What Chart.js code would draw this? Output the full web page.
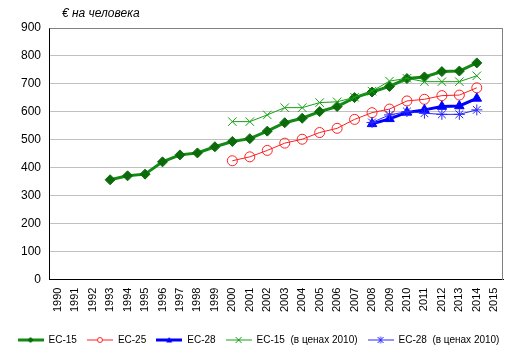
<!DOCTYPE html>
<html>
<head>
<meta charset="utf-8">
<script src="https://cdn.jsdelivr.net/npm/chart.js@4/dist/chart.umd.min.js"></script>
<style>
html,body{margin:0;padding:0;background:#fff;}
#wrap{width:517px;height:357px;position:relative;}
</style>
</head>
<body>
<div id="wrap"><canvas id="c" width="517" height="357"></canvas></div>
<script>
const years = ['1990','1991','1992','1993','1994','1995','1996','1997','1998','1999','2000','2001','2002','2003','2004','2005','2006','2007','2008','2009','2010','2011','2012','2013','2014','2015'];
const yTicks = [0,100,200,300,400,500,600,700,800,900];
const yTitle = '€ на человека';
const seriesNames = ['ЕС-15','ЕС-25','ЕС-28','ЕС-15  (в ценах 2010)','ЕС-28  (в ценах 2010)'];
const eu15 = [null,null,null,357,371,377,421,446,453,475,494,504,531,561,577,601,619,651,671,691,719,725,744,746,775,null];
const eu25 = [null,null,null,null,null,null,null,null,null,null,425,439,462,488,502,526,541,573,597,610,639,645,658,660,686,null];
const eu28 = [null,null,null,null,null,null,null,null,null,null,null,null,null,null,null,null,null,null,557,575,598,607,619,621,648,null];
const eu15r = [null,null,null,null,null,null,null,null,null,null,565,565,589,615,615,633,636,652,674,710,720,708,708,708,729,null];
const eu28r = [null,null,null,null,null,null,null,null,null,null,null,null,null,null,null,null,null,null,562,589,601,595,591,591,607,null];

const cGreen = '#138a13', cDGreen = '#0b6b0b', cRed = '#ff2020', cBlue = '#0000ff', cLGreen = '#16a016', cLBlue = '#2828ff';

function legendIcon(color, lw, marker, mcolor, fill){
  const cv = document.createElement('canvas');
  cv.width = 26; cv.height = 10;
  const x = cv.getContext('2d');
  x.strokeStyle = color; x.lineWidth = lw;
  x.beginPath(); x.moveTo(0,5); x.lineTo(26,5); x.stroke();
  x.strokeStyle = mcolor; x.fillStyle = fill; x.lineWidth = 1;
  const cx = 13, cy = 5;
  x.beginPath();
  if (marker === 'diamond'){ x.moveTo(cx,cy-3); x.lineTo(cx+3,cy); x.lineTo(cx,cy+3); x.lineTo(cx-3,cy); x.closePath(); x.fill(); }
  else if (marker === 'circle'){ x.arc(cx,cy,2.5,0,Math.PI*2); x.fill(); x.stroke(); }
  else if (marker === 'triangle'){ x.moveTo(cx,cy-3); x.lineTo(cx+3,cy+2.5); x.lineTo(cx-3,cy+2.5); x.closePath(); x.fill(); }
  else if (marker === 'x'){ x.moveTo(cx-3,cy-3); x.lineTo(cx+3,cy+3); x.moveTo(cx+3,cy-3); x.lineTo(cx-3,cy+3); x.stroke(); }
  else if (marker === 'star'){ x.moveTo(cx-3,cy-3); x.lineTo(cx+3,cy+3); x.moveTo(cx+3,cy-3); x.lineTo(cx-3,cy+3); x.moveTo(cx,cy-3.5); x.lineTo(cx,cy+3.5); x.stroke(); }
  return cv;
}
const icons = [
  legendIcon(cGreen,3,'diamond',cDGreen,cDGreen),
  legendIcon(cRed,1,'circle',cRed,'#fff'),
  legendIcon(cBlue,3,'triangle',cBlue,cBlue),
  legendIcon(cLGreen,1,'x',cLGreen,cLGreen),
  legendIcon(cLBlue,1,'star',cLBlue,cLBlue)
];

const framePlugin = {
  id:'frame',
  beforeDatasetsDraw(chart){
    const a = chart.chartArea, ctx = chart.ctx;
    ctx.save();
    ctx.strokeStyle = '#808080'; ctx.lineWidth = 1;
    ctx.beginPath();
    ctx.moveTo(Math.round(a.left)+0.5, Math.round(a.top)+0.5);
    ctx.lineTo(Math.round(a.right)-0.5, Math.round(a.top)+0.5);
    ctx.lineTo(Math.round(a.right)-0.5, Math.round(a.bottom));
    ctx.stroke();
    ctx.restore();
  },
  afterDraw(chart){
    const a = chart.chartArea, ctx = chart.ctx;
    ctx.save();
    ctx.font = 'italic 12px "Liberation Sans", Arial, sans-serif';
    ctx.fillStyle = '#000';
    ctx.textBaseline = 'middle';
    ctx.fillText(yTitle, a.left + 13, 14);
    ctx.restore();
  }
};

new Chart(document.getElementById('c'), {
  type:'line',
  data:{
    labels: years,
    datasets:[
      {label:seriesNames[0], data:eu15, borderColor:cGreen, backgroundColor:cDGreen, borderWidth:3, pointStyle:'rectRot', pointRadius:5, pointBorderColor:cDGreen, pointBackgroundColor:cDGreen, pointBorderWidth:1, order:5},
      {label:seriesNames[1], data:eu25, borderColor:cRed, backgroundColor:'#fff', borderWidth:1, pointStyle:'circle', pointRadius:5, pointBorderColor:cRed, pointBackgroundColor:'rgba(255,255,255,0)', pointBorderWidth:1, order:4},
      {label:seriesNames[2], data:eu28, borderColor:cBlue, backgroundColor:cBlue, borderWidth:3, pointStyle:'triangle', pointRadius:5.5, pointBorderColor:cBlue, pointBackgroundColor:cBlue, pointBorderWidth:1, order:3},
      {label:seriesNames[3], data:eu15r, borderColor:cLGreen, backgroundColor:cLGreen, borderWidth:1, pointStyle:'crossRot', pointRadius:6, pointBorderColor:cLGreen, pointBorderWidth:1, order:2},
      {label:seriesNames[4], data:eu28r, borderColor:cLBlue, backgroundColor:cLBlue, borderWidth:1, pointStyle:'star', pointRadius:5.5, pointBorderColor:cLBlue, pointBorderWidth:1, order:1}
    ]
  },
  options:{
    responsive:false,
    animation:false,
    devicePixelRatio:1,
    layout:{padding:{left:0, right:0, top:28, bottom:2}},
    elements:{line:{tension:0}},
    scales:{
      x:{
        offset:true,
        afterFit(s){ s.height += 5; },
        grid:{display:false, drawTicks:false},
        border:{display:true, color:'#000', width:1},
        ticks:{autoSkip:false, minRotation:90, maxRotation:90, padding:8, color:'#000', font:{family:'"Liberation Sans", Arial, sans-serif', size:11}}
      },
      y:{
        min:0, max:900,
        afterBuildTicks(s){ s.ticks = yTicks.map(v=>({value:v})); },
        afterFit(s){ s.width = 49; },
        grid:{color:'#c0c0c0', drawTicks:false},
        border:{display:true, color:'#000', width:1},
        ticks:{padding:8, color:'#000', font:{family:'"Liberation Sans", Arial, sans-serif', size:12}}
      },
      yR:{
        position:'right',
        display:true,
        min:0, max:900,
        afterFit(s){ s.width = 14; },
        grid:{display:false, drawTicks:false},
        border:{display:false},
        ticks:{display:false}
      }
    },
    plugins:{
      tooltip:{enabled:false},
      legend:{
        position:'bottom',
        labels:{
          usePointStyle:true,
          pointStyleWidth:26,
          boxHeight:10,
          padding:10,
          color:'#000',
          font:{family:'"Liberation Sans", Arial, sans-serif', size:10},
          generateLabels(chart){
            return chart.data.datasets.map((d,i)=>({text:d.label, pointStyle:icons[i], fillStyle:'#fff', strokeStyle:'#fff', lineWidth:0, hidden:false, datasetIndex:i}));
          }
        }
      }
    }
  },
  plugins:[framePlugin]
});
</script>
</body>
</html>
